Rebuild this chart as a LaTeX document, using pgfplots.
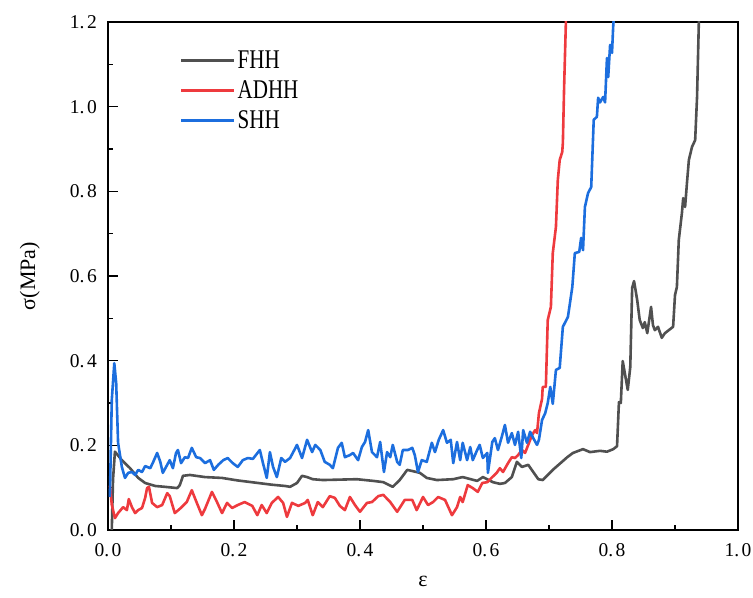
\documentclass[border=0pt]{standalone}
\usepackage{pgfplots}
\pgfplotsset{compat=1.18}
\usepackage{fontspec}
\setmainfont{Liberation Serif}
\newfontfamily\legfont[FakeStretch=0.78]{Liberation Serif}
\definecolor{cgray}{RGB}{80,80,80}
\definecolor{cred}{RGB}{238,58,62}
\definecolor{cblue}{RGB}{28,110,222}
\begin{document}
\begin{tikzpicture}
\useasboundingbox (-108bp,-68bp) rectangle (645bp,530bp);
\begin{axis}[
  at={(0,0)}, anchor=south west,
  scale only axis, width=630bp, height=508bp,
  xmin=0, xmax=1.0, ymin=0, ymax=1.2,
  xtick={0,0.2,0.4,0.6,0.8,1.0},
  xticklabels={0.\hspace{2.5bp}0,0.\hspace{2.5bp}2,0.\hspace{2.5bp}4,0.\hspace{2.5bp}6,0.\hspace{2.5bp}8,1.\hspace{2.5bp}0},
  ytick={0,0.2,0.4,0.6,0.8,1.0,1.2},
  yticklabels={0.\hspace{2.5bp}0,0.\hspace{2.5bp}2,0.\hspace{2.5bp}4,0.\hspace{2.5bp}6,0.\hspace{2.5bp}8,1.\hspace{2.5bp}0,1.\hspace{2.5bp}2},
  minor tick num=1,
  tick pos=left,
  tick align=inside,
  major tick length=10bp, minor tick length=5bp,
  every tick/.style={black, line width=1.4bp},
  axis line style={line width=1.6bp},
  ticklabel style={font=\fontsize{19.5bp}{22bp}\selectfont},
  yticklabel style={inner sep=0pt, xshift=-11bp},
  xticklabel style={inner sep=0pt, yshift=-13bp},
  xlabel={ε}, ylabel={σ(MPa)},
  label style={font=\fontsize{22bp}{26bp}\selectfont},
  xlabel style={at={(axis description cs:0.5,-0.102)}, anchor=center},
  ylabel style={at={(axis description cs:-0.124,0.5)}, anchor=center},
  legend style={draw=none, fill=none, at={(axis description cs:0.114,0.947)}, anchor=north west,
    font=\legfont\fontsize{27bp}{29bp}\selectfont, row sep=6.5bp, inner sep=0pt,
    /tikz/every even column/.append style={column sep=12bp}},
  legend cell align=left,
]
\addplot[color=cgray, line width=2.6bp, line join=round, legend image code/.code={\draw[color=cgray, line width=2.6bp] (0bp,0bp) -- (53bp,0bp);}] coordinates {
(0.006,0.0)(0.008,0.12)(0.011,0.185)(0.022,0.165)(0.035,0.146)(0.048,0.123)(0.059,0.111)(0.075,0.104)(0.090,0.102)(0.110,0.099)(0.114,0.106)(0.119,0.128)(0.130,0.130)(0.154,0.125)(0.181,0.123)(0.206,0.117)(0.233,0.112)(0.260,0.107)(0.281,0.104)(0.289,0.102)(0.300,0.111)(0.308,0.128)(0.316,0.125)(0.325,0.120)(0.341,0.118)(0.368,0.119)(0.395,0.120)(0.421,0.116)(0.437,0.113)(0.452,0.102)(0.463,0.118)(0.475,0.142)(0.484,0.139)(0.495,0.135)(0.506,0.123)(0.522,0.118)(0.548,0.120)(0.563,0.125)(0.586,0.116)(0.595,0.125)(0.611,0.113)(0.622,0.109)(0.630,0.111)(0.641,0.125)(0.649,0.161)(0.657,0.149)(0.667,0.154)(0.683,0.120)(0.690,0.118)(0.706,0.142)(0.729,0.172)(0.738,0.182)(0.754,0.191)(0.765,0.184)(0.781,0.187)(0.792,0.185)(0.802,0.191)(0.808,0.198)(0.811,0.302)(0.814,0.300)(0.817,0.399)(0.825,0.331)(0.829,0.385)(0.832,0.572)(0.835,0.588)(0.840,0.543)(0.844,0.496)(0.849,0.477)(0.852,0.491)(0.856,0.465)(0.862,0.527)(0.865,0.484)(0.868,0.472)(0.873,0.480)(0.879,0.454)(0.884,0.465)(0.897,0.480)(0.900,0.555)(0.903,0.574)(0.906,0.685)(0.911,0.749)(0.913,0.784)(0.916,0.763)(0.919,0.820)(0.922,0.874)(0.927,0.905)(0.932,0.921)(0.935,1.023)(0.938,1.21)
};
\addlegendentry{FHH}
\addplot[color=cred, line width=2.6bp, line join=round, legend image code/.code={\draw[color=cred, line width=2.6bp] (0bp,0bp) -- (53bp,0bp);}] coordinates {
(0.003,0.105)(0.006,0.06)(0.011,0.028)(0.016,0.040)(0.024,0.054)(0.030,0.047)(0.033,0.073)(0.038,0.054)(0.043,0.040)(0.048,0.047)(0.054,0.052)(0.059,0.076)(0.062,0.099)(0.065,0.102)(0.070,0.064)(0.078,0.054)(0.086,0.059)(0.094,0.087)(0.098,0.080)(0.106,0.040)(0.114,0.050)(0.125,0.066)(0.133,0.094)(0.141,0.064)(0.149,0.035)(0.154,0.050)(0.165,0.090)(0.173,0.066)(0.181,0.040)(0.189,0.064)(0.197,0.052)(0.206,0.059)(0.217,0.066)(0.229,0.057)(0.237,0.035)(0.244,0.059)(0.252,0.040)(0.260,0.064)(0.270,0.078)(0.278,0.064)(0.284,0.031)(0.292,0.064)(0.302,0.057)(0.313,0.064)(0.317,0.071)(0.325,0.035)(0.333,0.066)(0.341,0.054)(0.352,0.080)(0.360,0.076)(0.368,0.057)(0.376,0.047)(0.384,0.078)(0.392,0.059)(0.400,0.043)(0.411,0.064)(0.419,0.066)(0.429,0.080)(0.437,0.083)(0.448,0.066)(0.459,0.043)(0.471,0.071)(0.483,0.071)(0.490,0.047)(0.500,0.078)(0.508,0.059)(0.516,0.066)(0.524,0.078)(0.535,0.071)(0.546,0.035)(0.554,0.054)(0.559,0.078)(0.563,0.066)(0.571,0.106)(0.579,0.099)(0.587,0.090)(0.594,0.111)(0.602,0.113)(0.610,0.125)(0.617,0.135)(0.622,0.146)(0.627,0.137)(0.635,0.158)(0.641,0.172)(0.646,0.170)(0.651,0.177)(0.657,0.189)(0.662,0.182)(0.667,0.201)(0.673,0.224)(0.678,0.236)(0.681,0.229)(0.684,0.276)(0.689,0.310)(0.690,0.338)(0.695,0.338)(0.698,0.496)(0.703,0.527)(0.706,0.654)(0.711,0.716)(0.714,0.827)(0.717,0.874)(0.721,0.893)(0.722,0.914)(0.724,1.047)(0.727,1.21)
};
\addlegendentry{ADHH}
\addplot[color=cblue, line width=2.6bp, line join=round, legend image code/.code={\draw[color=cblue, line width=2.6bp] (0bp,0bp) -- (53bp,0bp);}] coordinates {
(0.003,0.078)(0.006,0.307)(0.010,0.394)(0.013,0.347)(0.016,0.206)(0.022,0.149)(0.027,0.123)(0.032,0.135)(0.038,0.137)(0.043,0.130)(0.048,0.142)(0.054,0.137)(0.059,0.151)(0.067,0.146)(0.071,0.158)(0.078,0.182)(0.083,0.161)(0.087,0.135)(0.094,0.154)(0.098,0.165)(0.103,0.146)(0.108,0.182)(0.111,0.189)(0.116,0.158)(0.122,0.172)(0.127,0.170)(0.133,0.194)(0.140,0.172)(0.146,0.170)(0.154,0.158)(0.162,0.165)(0.168,0.142)(0.175,0.154)(0.183,0.165)(0.190,0.170)(0.198,0.158)(0.206,0.149)(0.214,0.165)(0.222,0.170)(0.230,0.168)(0.241,0.189)(0.246,0.158)(0.252,0.123)(0.257,0.184)(0.262,0.149)(0.268,0.125)(0.275,0.170)(0.281,0.161)(0.289,0.170)(0.294,0.184)(0.300,0.201)(0.308,0.170)(0.316,0.213)(0.324,0.184)(0.329,0.201)(0.337,0.189)(0.344,0.161)(0.352,0.154)(0.357,0.146)(0.365,0.194)(0.371,0.206)(0.376,0.172)(0.384,0.177)(0.389,0.182)(0.397,0.165)(0.403,0.196)(0.408,0.208)(0.413,0.236)(0.419,0.184)(0.427,0.172)(0.432,0.208)(0.438,0.137)(0.443,0.184)(0.448,0.172)(0.452,0.201)(0.459,0.161)(0.463,0.154)(0.468,0.189)(0.476,0.189)(0.483,0.194)(0.487,0.177)(0.492,0.137)(0.498,0.165)(0.506,0.161)(0.514,0.206)(0.519,0.184)(0.525,0.213)(0.532,0.236)(0.538,0.206)(0.544,0.213)(0.548,0.158)(0.554,0.208)(0.559,0.165)(0.563,0.206)(0.570,0.165)(0.575,0.196)(0.579,0.165)(0.586,0.189)(0.590,0.201)(0.595,0.170)(0.602,0.182)(0.603,0.135)(0.610,0.208)(0.614,0.217)(0.619,0.189)(0.625,0.220)(0.630,0.248)(0.635,0.206)(0.641,0.229)(0.646,0.201)(0.651,0.232)(0.656,0.170)(0.659,0.236)(0.665,0.206)(0.670,0.232)(0.675,0.217)(0.681,0.201)(0.684,0.213)(0.689,0.260)(0.694,0.276)(0.698,0.300)(0.702,0.338)(0.706,0.298)(0.711,0.378)(0.717,0.383)(0.722,0.480)(0.730,0.503)(0.737,0.574)(0.741,0.654)(0.748,0.657)(0.751,0.690)(0.754,0.661)(0.757,0.763)(0.762,0.796)(0.767,0.810)(0.771,0.969)(0.776,0.976)(0.778,1.021)(0.781,1.010)(0.786,1.023)(0.789,1.010)(0.792,1.115)(0.794,1.070)(0.797,1.146)(0.800,1.127)(0.802,1.193)(0.803,1.21)
};
\addlegendentry{SHH}
\end{axis}
\end{tikzpicture}
\end{document}
